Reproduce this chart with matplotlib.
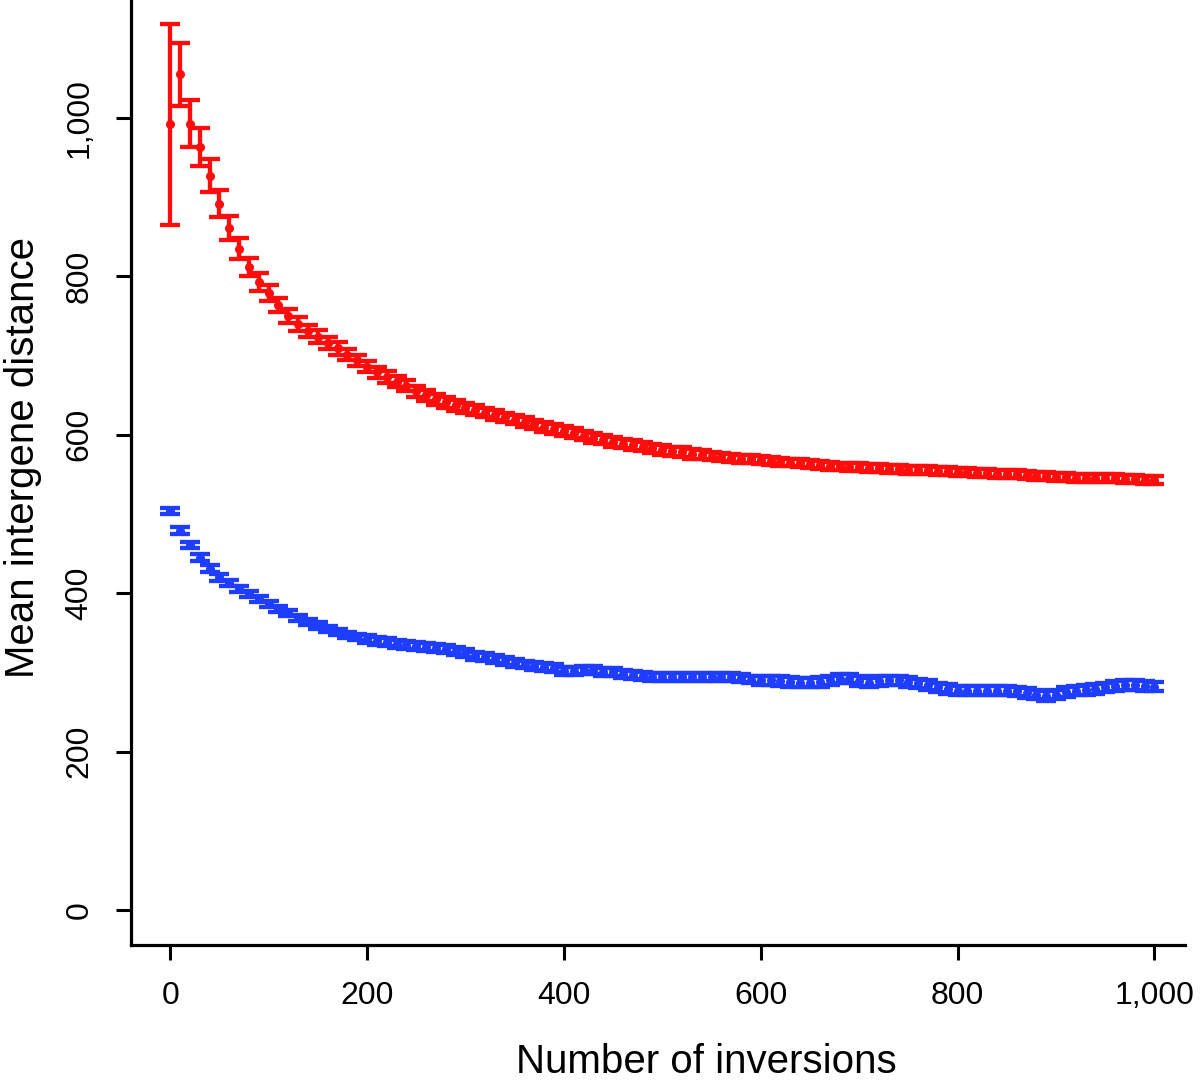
# INTERGENE DISTANCE AGAINST NUMBER OF INVERSIONS

# IMPORTING NUMPY AND MATPLOTLIB.PYPLOT
import numpy as np
import matplotlib
matplotlib.use("Agg")
import matplotlib.pyplot as plt

# NUMBER OF INVERSIONS (EVERY 10)
inversions = np.arange(0, 1001, 10)

# RED SERIES: MEAN AND ERROR HALF WIDTH
red_mean = [992, 1055, 993, 963, 927, 892, 861, 835, 812, 793,
            779, 764, 750, 740, 731, 724, 716, 709, 701, 694,
            686, 679, 673, 667, 662, 655, 650, 645, 641, 637,
            634, 631, 628, 625, 622, 619, 616, 613, 610, 607,
            605, 602, 599, 596, 594, 591, 589, 587, 585, 583,
            581, 579, 578, 576, 575, 573, 572, 571, 570, 569,
            568, 567, 566, 565, 564, 563, 562, 561, 560, 559,
            559, 558, 558, 557, 557, 556, 556, 555, 554, 554,
            553, 553, 552, 552, 551, 550, 550, 549, 548, 548,
            547, 547, 546, 546, 545, 545, 545, 544, 544, 543,
            543]
red_err = [127, 40, 30, 24, 21, 17, 15, 13, 11, 11,
           10, 9, 9, 9, 8, 8, 8, 8, 7, 7,
           7, 7, 7, 7, 7, 7, 7, 7, 7, 7,
           6, 6, 6, 6, 6, 6, 6, 6, 6, 6,
           6, 6, 6, 6, 6, 6, 6, 6, 6, 6,
           6, 6, 6, 6, 6, 5, 5, 5, 5, 5,
           5, 5, 5, 5, 5, 5, 5, 5, 5, 5,
           5, 5, 5, 5, 5, 5, 5, 5, 5, 5,
           5, 5, 5, 5, 5, 5, 5, 5, 5, 5,
           5, 5, 5, 5, 5, 5, 5, 5, 5, 5,
           5]

# BLUE SERIES: MEAN AND ERROR HALF WIDTH
blue_mean = [504, 479, 461, 445, 431, 420, 413, 405, 399, 393,
             386, 380, 375, 369, 364, 359, 355, 351, 347, 345,
             342, 340, 338, 336, 335, 333, 332, 331, 329, 327,
             324, 321, 319, 317, 314, 312, 310, 308, 307, 305,
             302, 302, 303, 303, 301, 300, 298, 297, 296, 294,
             294, 294, 294, 294, 294, 294, 294, 294, 293, 291,
             290, 290, 289, 288, 287, 287, 288, 290, 292, 292,
             289, 287, 289, 290, 290, 288, 286, 284, 281, 279,
             277, 277, 277, 277, 277, 277, 276, 274, 272, 270,
             272, 275, 277, 278, 279, 281, 283, 284, 284, 283,
             282]
blue_err = [4] * 20 + [5] * 40 + [6] * 41

# FONT
plt.rcParams["font.family"] = ["Liberation Sans", "DejaVu Sans"]

# FIGURE AND AXES
fig = plt.figure(figsize=(12, 10.86), dpi=100)
ax = fig.add_axes([0.109, 0.13, 0.8785, 0.87])

red = "#ff0d0d"
blue = "#1f3dff"

# DRAWING THE ERROR BARS
ax.errorbar(inversions, red_mean, yerr=red_err, fmt="o", color=red,
            ms=5.5, elinewidth=3.1, capsize=7.5, capthick=3.1)
ax.errorbar(inversions, blue_mean, yerr=blue_err, fmt="o", color=blue,
            ms=5.5, elinewidth=3.1, capsize=7.5, capthick=3.1)

# AXES LIMITS AND TICKS
ax.set_xlim(-40, 1031)
ax.set_ylim(-44, 1149)
ax.set_xticks([0, 200, 400, 600, 800, 1000])
ax.set_xticklabels(["0", "200", "400", "600", "800", "1,000"])
ax.set_yticks([0, 200, 400, 600, 800, 1000])
ax.set_yticklabels(["0", "200", "400", "600", "800", "1,000"], va="center")
ax.tick_params(axis="both", length=11, width=2.2, labelsize=23, pad=15)
ax.tick_params(axis="y", labelrotation=90)

# ONLY LEFT AND BOTTOM LINES
ax.spines["top"].set_visible(False)
ax.spines["right"].set_visible(False)
ax.spines["left"].set_linewidth(2.3)
ax.spines["bottom"].set_linewidth(2.3)

# LABELS
fig.text(0.5885, 0.022, "Number of inversions", ha="center", va="center", fontsize=29)
fig.text(0.019, 0.579, "Mean intergene distance", ha="center", va="center",
         rotation=90, fontsize=29)

# SAVING
fig.savefig("out.png", dpi=100)
